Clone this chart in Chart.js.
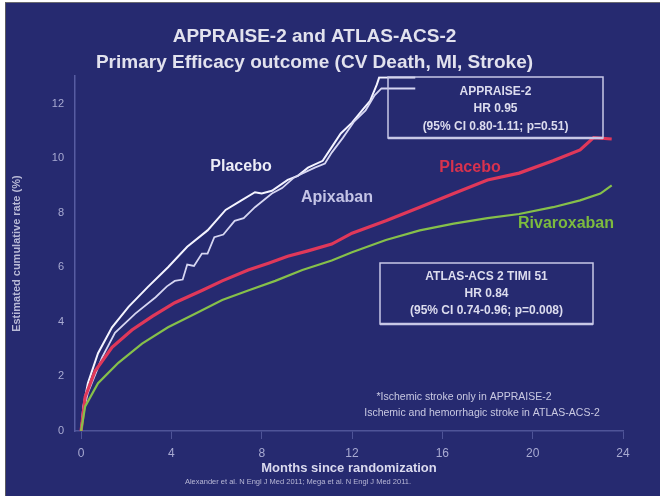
<!DOCTYPE html>
<html>
<head>
<meta charset="utf-8">
<title>APPRAISE-2 and ATLAS-ACS-2</title>
<script src="https://cdn.jsdelivr.net/npm/chart.js@4/dist/chart.umd.min.js"></script>
<style>
  html, body { margin: 0; padding: 0; background: #ffffff; }
  body { width: 660px; height: 496px; position: relative; overflow: hidden; }
  #frame {
    position: absolute; left: 5px; top: 2px; right: 0; bottom: 0;
    background: #262a70;
    border-left: 1px solid #5a5a60; border-top: 1px solid #6a6a70;
  }
  #chart-wrap { position: absolute; left: 0; top: 0; width: 660px; height: 496px; }
</style>
</head>
<body>
<div id="frame"></div>
<div id="chart-wrap"><canvas id="kmChart" width="660" height="496"></canvas></div>
<script>
'use strict';

// ---- data (months, cumulative %) ----
const apxPlaceboMonths = [0, 0.1, 0.3, 0.75, 1.37, 2.1, 2.95, 3.85, 4.7, 5.6, 6.4, 7.1, 7.7, 8.0, 8.45, 9.15, 9.6, 10.05, 10.7, 11.1, 11.5, 12.0, 12.5, 12.8, 13.1, 13.2, 14.8];
const apxPlaceboRate   = [0, 0.9, 1.75, 2.85, 3.8, 4.55, 5.27, 6.0, 6.75, 7.35, 8.1, 8.45, 8.75, 8.7, 8.8, 9.2, 9.35, 9.65, 9.9, 10.4, 10.9, 11.3, 11.8, 12.1, 12.7, 12.95, 12.95];

const apixabanMonths = [0, 0.1, 0.3, 0.93, 1.5, 2.4, 3.3, 3.8, 4.15, 4.5, 4.7, 5.0, 5.35, 5.6, 5.9, 6.3, 6.8, 7.2, 7.7, 8.45, 8.9, 9.45, 10.35, 10.8, 11.1, 11.6, 12.1, 12.6, 13.0, 13.3, 14.8];
const apixabanRate   = [0, 0.7, 1.4, 2.7, 3.6, 4.3, 4.9, 5.3, 5.5, 5.55, 6.1, 6.05, 6.5, 6.5, 7.1, 7.2, 7.7, 7.8, 8.2, 8.7, 8.9, 9.3, 9.65, 9.8, 10.2, 10.75, 11.35, 11.75, 12.3, 12.55, 12.55];

const atlasPlaceboMonths = [0, 0.18, 0.62, 1.37, 2.25, 3.15, 4.15, 5.35, 6.25, 7.4, 8.3, 9.15, 10.05, 11.1, 12.0, 13.5, 15.0, 16.5, 18.0, 19.4, 20.9, 22.1, 22.7, 23.5];
const atlasPlaceboRate   = [0, 1.25, 2.2, 3.07, 3.7, 4.2, 4.7, 5.15, 5.5, 5.9, 6.15, 6.4, 6.6, 6.85, 7.25, 7.7, 8.2, 8.7, 9.2, 9.45, 9.9, 10.3, 10.75, 10.7];

const rivaroxabanMonths = [0, 0.18, 0.75, 1.65, 2.7, 3.85, 5.05, 6.25, 7.4, 8.6, 9.8, 11.1, 12.0, 13.5, 15.0, 16.5, 18.0, 19.4, 20.9, 22.1, 23.0, 23.5];
const rivaroxabanRate   = [0, 0.9, 1.75, 2.5, 3.2, 3.8, 4.3, 4.8, 5.15, 5.5, 5.9, 6.25, 6.55, 7.0, 7.35, 7.6, 7.8, 7.95, 8.2, 8.45, 8.7, 9.0];

const xTicks = [0, 4, 8, 12, 16, 20, 24];
const yTicks = [0, 2, 4, 6, 8, 10, 12];

const FONT = '"Liberation Sans", Arial, sans-serif';
const AXIS_COLOR = '#4f5498';
const TICK_TEXT = '#a9abd2';

const toPoints = (xs, ys) => xs.map((x, i) => ({ x, y: ys[i] }));

// Text overlays: curve labels, the two HR boxes, footnotes and citation.
const Overlay = {
  id: 'overlay',
  afterDatasetsDraw(chart) {
    const ctx = chart.ctx;
    ctx.save();
    ctx.textAlign = 'center';
    ctx.textBaseline = 'middle';

    // curve labels
    ctx.font = `bold 16px ${FONT}`;
    ctx.fillStyle = '#ececf6'; ctx.fillText('Placebo', 241, 167);
    ctx.fillStyle = '#c4c4e6'; ctx.fillText('Apixaban', 337, 198);
    ctx.fillStyle = '#d8324e'; ctx.fillText('Placebo', 470, 168);
    ctx.fillStyle = '#7cba3e'; ctx.fillText('Rivaroxaban', 566, 224);

    // HR boxes
    this._box(ctx, 388, 77, 215, 61, ['APPRAISE-2', 'HR 0.95', '(95% CI 0.80-1.11; p=0.51)'], [92, 109, 127]);
    this._box(ctx, 380, 263, 213, 61, ['ATLAS-ACS 2 TIMI 51', 'HR 0.84', '(95% CI 0.74-0.96; p=0.008)'], [277, 294, 311]);

    // footnotes
    ctx.font = `10.5px ${FONT}`;
    ctx.fillStyle = '#c9c9e2';
    ctx.fillText('*Ischemic stroke only in APPRAISE-2', 464, 397);
    ctx.fillText('Ischemic and hemorrhagic stroke in ATLAS-ACS-2', 482, 413);

    ctx.font = `7.5px ${FONT}`;
    ctx.fillStyle = '#b8b8d6';
    ctx.fillText('Alexander et al. N Engl J Med 2011; Mega et al. N Engl J Med 2011.', 298, 482);
    ctx.restore();
  },
  _box(ctx, x, y, w, h, lines, ys) {
    ctx.strokeStyle = '#c8c8e6';
    ctx.lineWidth = 1.5;
    ctx.strokeRect(x, y, w, h);
    ctx.lineWidth = 2.5;
    ctx.beginPath(); ctx.moveTo(x, y + h); ctx.lineTo(x + w, y + h); ctx.stroke();
    ctx.font = `bold 12px ${FONT}`;
    ctx.fillStyle = '#dcdcee';
    lines.forEach((t, i) => ctx.fillText(t, x + w / 2, ys[i]));
  }
};

const line = (label, pts, color, width) => ({
  label, data: pts, borderColor: color, borderWidth: width,
  pointRadius: 0, tension: 0, fill: false
});

new Chart(document.getElementById('kmChart'), {
  type: 'line',
  data: {
    datasets: [
      line('Rivaroxaban', toPoints(rivaroxabanMonths, rivaroxabanRate), '#86c04a', 2.2),
      line('Placebo (ATLAS)', toPoints(atlasPlaceboMonths, atlasPlaceboRate), '#e0385a', 3.2),
      line('Apixaban', toPoints(apixabanMonths, apixabanRate), '#d6d6f2', 1.8),
      line('Placebo (APPRAISE)', toPoints(apxPlaceboMonths, apxPlaceboRate), '#f4f4ff', 2)
    ]
  },
  options: {
    responsive: false,
    animation: false,
    layout: { padding: { left: 6, right: 37, top: 0, bottom: 20 } },
    plugins: {
      legend: { display: false },
      tooltip: { enabled: false },
      title: {
        display: true,
        text: ['APPRAISE-2 and ATLAS-ACS-2', 'Primary Efficacy outcome (CV Death, MI, Stroke)'],
        color: '#e2e2ee',
        font: { family: FONT, size: 19, weight: 'bold', lineHeight: 1.4 },
        padding: { top: 23, bottom: 0 }
      }
    },
    scales: {
      x: {
        type: 'linear', min: -0.27, max: 24,
        afterBuildTicks: ax => { ax.ticks = xTicks.map(v => ({ value: v })); },
        afterFit: ax => { ax.height = 496 - 20 - 431; },
        grid: { drawOnChartArea: false, drawTicks: true, tickLength: 8, color: AXIS_COLOR, lineWidth: 1 },
        border: { color: AXIS_COLOR, width: 1.5, dash: [3, 2] },
        ticks: { color: TICK_TEXT, font: { family: FONT, size: 12 }, padding: 7 },
        title: {
          display: true, text: 'Months since randomization', color: '#dadaee',
          font: { family: FONT, size: 13, weight: 'bold' }, padding: { top: 0, bottom: 0 }
        }
      },
      y: {
        type: 'linear', min: 0, max: 13,
        afterBuildTicks: ax => { ax.ticks = yTicks.map(v => ({ value: v })); },
        afterFit: ax => { ax.width = 75 - 6; },
        grid: { display: true, drawOnChartArea: false, drawTicks: false },
        border: { color: '#575ca2', width: 1.5 },
        ticks: { color: TICK_TEXT, font: { family: FONT, size: 11 }, padding: 11 },
        title: {
          display: true, text: 'Estimated cumulative rate (%)', color: '#b9bad6',
          font: { family: FONT, size: 11, weight: 'bold' }, padding: { top: 4, bottom: 0 }
        }
      }
    }
  },
  plugins: [Overlay]
});
</script>
</body>
</html>
